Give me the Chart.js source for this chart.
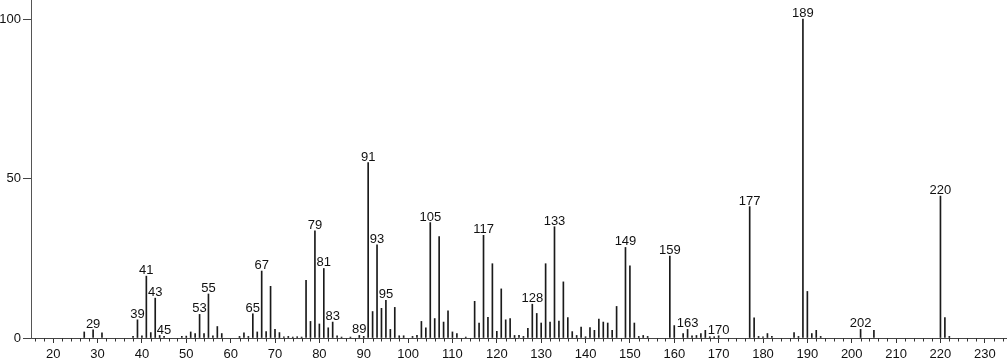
<!DOCTYPE html>
<html>
<head>
<meta charset="utf-8">
<script src="https://cdn.jsdelivr.net/npm/chart.js@4/dist/chart.umd.min.js"></script>
<style>
  html, body { margin: 0; padding: 0; background: #fff; }
  #wrap { width: 1007px; height: 362px; }
</style>
</head>
<body>
<div id="wrap"><canvas id="spectrum"></canvas></div>
<script>
// m/z values and relative intensities
const mzValues = [
    27, 29, 31, 38, 39, 40, 41, 42, 43, 44, 45, 49, 50, 51, 52, 53, 54, 55, 56, 57, 58,
    62, 63, 64, 65, 66, 67, 68, 69, 70, 71, 72, 73, 74, 75, 76, 77, 78, 79, 80, 81, 82, 83, 84, 85, 87,
    89, 90, 91, 92, 93, 94, 95, 96, 97, 98, 99, 101, 102, 103, 104, 105, 106, 107, 108, 109, 110, 111, 113,
    115, 116, 117, 118, 119, 120, 121, 122, 123, 124, 125, 126, 127, 128, 129, 130, 131, 132, 133, 134,
    135, 136, 137, 138, 139, 140, 141, 142, 143, 144, 145, 146, 147, 149, 150, 151, 152, 153, 154,
    159, 160, 162, 163, 164, 165, 166, 167, 168, 169, 170,
    177, 178, 179, 180, 181, 182, 187, 188, 189, 190, 191, 192, 193, 202, 205, 220, 221, 222
];
const intensities = [
    1.9, 2.6, 1.6, 0.5, 5.7, 0.7, 19.4, 1.7, 12.5, 0.8, 0.5, 0.5, 0.6, 1.9, 1.4, 7.4, 1.4, 13.8, 0.7, 3.6, 1.4,
    0.5, 1.6, 0.5, 7.6, 1.9, 21.0, 2.0, 16.2, 2.7, 1.7, 0.4, 0.5, 0.3, 0.4, 0.3, 18.1, 5.2, 33.6, 4.4, 21.8, 3.2, 5.0, 0.7, 0.3, 0.3,
    0.8, 0.5, 55.0, 8.3, 29.2, 9.3, 11.8, 2.7, 9.6, 0.7, 0.7, 0.5, 0.8, 5.2, 3.2, 36.2, 6.1, 31.8, 5.0, 8.5, 1.9, 1.4, 0.3,
    11.5, 4.7, 32.2, 6.5, 23.3, 2.1, 15.4, 5.7, 6.1, 0.8, 0.8, 0.5, 3.0, 10.6, 7.7, 4.7, 23.3, 5.0, 34.9, 5.3,
    17.6, 6.4, 2.0, 0.8, 3.4, 0.4, 3.3, 2.4, 5.9, 5.0, 4.7, 2.4, 9.9, 28.4, 22.6, 4.7, 0.5, 0.8, 0.5,
    25.7, 3.9, 1.4, 2.7, 0.7, 0.8, 1.4, 2.4, 0.4, 0.4, 0.7,
    41.2, 6.3, 0.5, 0.4, 1.4, 0.5, 1.7, 0.5, 100, 14.6, 1.4, 2.4, 0.5, 2.7, 2.4, 44.5, 6.4, 0.5
];
const labeledPeaks = [29, 39, 41, 43, 45, 53, 55, 65, 67, 79, 81, 83, 89, 91, 93, 95,
    105, 117, 128, 133, 149, 159, 163, 170, 177, 189, 202, 220];

const xTicks = [20, 30, 40, 50, 60, 70, 80, 90, 100, 110, 120, 130, 140, 150, 160, 170, 180, 190, 200, 210, 220, 230];
const yTicks = [0, 50, 100];

const FONT = "'Liberation Sans', Arial, sans-serif";

// minor ticks every 2 units + peak labels
const spectrumExtras = {
    id: 'spectrumExtras',
    afterDraw(chart) {
        const ctx = chart.ctx;
        const x = chart.scales.x;
        const y = chart.scales.y;
        const base = y.getPixelForValue(0);

        ctx.save();
        ctx.strokeStyle = '#333';
        ctx.lineWidth = 1;
        ctx.beginPath();
        for (let v = 16; v <= 234; v += 2) {
            if (v % 10 == 0) continue;
            let px = Math.round(x.getPixelForValue(v)) + 0.5;
            ctx.moveTo(px, base);
            ctx.lineTo(px, base + 3.5);
        }
        ctx.stroke();

        ctx.fillStyle = '#111';
        ctx.font = '13px ' + FONT;
        ctx.textAlign = 'center';
        ctx.textBaseline = 'alphabetic';
        labeledPeaks.forEach((mz) => {
            let i = mzValues.indexOf(mz);
            let px = x.getPixelForValue(mz);
            let py = y.getPixelForValue(intensities[i]);
            ctx.fillText(String(mz), px, py - 2);
        });
        ctx.restore();
    }
};

new Chart(document.getElementById('spectrum'), {
    type: 'bar',
    data: {
        datasets: [{
            data: mzValues.map((mz, i) => ({ x: mz, y: intensities[i] })),
            backgroundColor: '#1a1a1a',
            borderWidth: 0,
            barThickness: 1
        }]
    },
    options: {
        responsive: true,
        maintainAspectRatio: false,
        animation: false,
        layout: { padding: 0 },
        plugins: {
            legend: { display: false },
            tooltip: { enabled: false }
        },
        scales: {
            x: {
                type: 'linear',
                offset: false,
                min: 15,
                max: 235,
                afterBuildTicks: (scale) => { scale.ticks = xTicks.map(v => ({ value: v })); },
                afterFit: (scale) => { scale.height = 24; scale.paddingLeft = 0; scale.paddingRight = 0; },
                grid: { offset: false, drawOnChartArea: false, tickLength: 5, tickColor: '#333' },
                border: { color: '#444', width: 1 },
                ticks: { color: '#111', padding: 4, font: { family: FONT, size: 13 }, maxRotation: 0, autoSkip: false }
            },
            y: {
                min: 0,
                max: 106,
                afterBuildTicks: (scale) => { scale.ticks = yTicks.map(v => ({ value: v })); },
                afterFit: (scale) => { scale.width = 31; scale.paddingTop = 0; scale.paddingBottom = 0; },
                grid: { drawOnChartArea: false, tickLength: 8, tickColor: '#444' },
                border: { color: '#555', width: 1 },
                ticks: { color: '#111', padding: 2, font: { family: FONT, size: 13 } }
            }
        }
    },
    plugins: [spectrumExtras]
});
</script>
</body>
</html>
